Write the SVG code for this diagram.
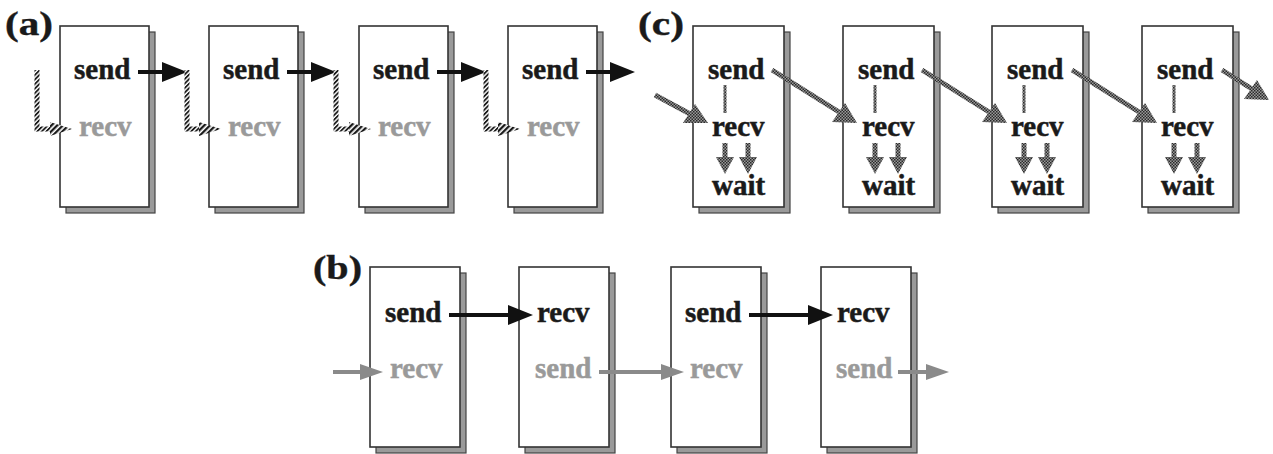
<svg xmlns="http://www.w3.org/2000/svg" width="1273" height="454" viewBox="0 0 1273 454">
  <style>
    .shadow { fill: #9a9a9a; stroke: #444; stroke-width: 1.2; }
    .box { fill: #fff; stroke: #333; stroke-width: 1.6; }
    .lbl { font-family: "Liberation Serif", "DejaVu Serif", serif; font-weight: bold; font-size: 29px; fill: #1a1a1a; stroke: #1a1a1a; stroke-width: 0.5; }
    .dim { fill: #9a9a9a; stroke: #9a9a9a; }
    .tag { font-family: "Liberation Serif", "DejaVu Serif", serif; font-weight: bold; font-size: 34px; fill: #1a1a1a; stroke: #1a1a1a; stroke-width: 0.4; }
    .solid { stroke: #111; stroke-width: 4; fill: none; }
    .solidhead { fill: #111; }
    .grey { stroke: #8a8a8a; stroke-width: 4; fill: none; }
    .greyhead { fill: #8a8a8a; }
    .hatch { stroke: url(#diag); stroke-width: 5; fill: none; }
    .hatchhead { fill: url(#diagBold); }
    .check { stroke: url(#checker); stroke-width: 5; fill: none; }
    .checkthin { stroke: url(#checker); stroke-width: 3; fill: none; }
    .checkhead { fill: url(#checker); }
  </style>
  <defs>
    <!-- diagonal hatching used for the blocked (a) messages -->
    <pattern id="diag" patternUnits="userSpaceOnUse" width="3.2" height="3.2" patternTransform="rotate(45)">
      <rect width="3.2" height="3.2" fill="#fff"/>
      <rect width="1.8" height="3.2" fill="#1a1a1a"/>
    </pattern>
    <pattern id="diagBold" patternUnits="userSpaceOnUse" width="4" height="4" patternTransform="rotate(45)">
      <rect width="4" height="4" fill="#fff"/>
      <rect width="2.3" height="4" fill="#1a1a1a"/>
    </pattern>
    <!-- checkered texture used for the non-blocking (c) messages -->
    <pattern id="checker" patternUnits="userSpaceOnUse" width="3" height="3">
      <rect width="3" height="3" fill="#999"/>
      <rect width="1.5" height="1.5" fill="#2a2a2a"/>
      <rect x="1.5" y="1.5" width="1.5" height="1.5" fill="#2a2a2a"/>
    </pattern>
  </defs>

  <!-- panel labels -->
  <text class="tag" x="5" y="35" textLength="48" lengthAdjust="spacingAndGlyphs">(a)</text>
  <text class="tag" x="638" y="35" textLength="46" lengthAdjust="spacingAndGlyphs">(c)</text>
  <text class="tag" x="313" y="279" textLength="49" lengthAdjust="spacingAndGlyphs">(b)</text>

  <!-- (a) nodes -->
  <g id="a1">
    <rect class="shadow" x="66" y="32" width="89" height="181"/>
    <rect class="box" x="60" y="26" width="89" height="181"/>
    <text class="lbl" x="74" y="79">send</text>
    <text class="lbl dim" x="79" y="136">recv</text>
  </g>
  <g id="a2">
    <rect class="shadow" x="215" y="32" width="89" height="181"/>
    <rect class="box" x="209" y="26" width="89" height="181"/>
    <text class="lbl" x="223" y="79">send</text>
    <text class="lbl dim" x="228" y="136">recv</text>
  </g>
  <g id="a3">
    <rect class="shadow" x="365" y="32" width="89" height="181"/>
    <rect class="box" x="359" y="26" width="89" height="181"/>
    <text class="lbl" x="373" y="79">send</text>
    <text class="lbl dim" x="378" y="136">recv</text>
  </g>
  <g id="a4">
    <rect class="shadow" x="514" y="32" width="89" height="181"/>
    <rect class="box" x="508" y="26" width="89" height="181"/>
    <text class="lbl" x="522" y="79">send</text>
    <text class="lbl dim" x="527" y="136">recv</text>
  </g>

  <!-- (c) nodes -->
  <g id="c1">
    <rect class="shadow" x="699" y="32" width="91" height="181"/>
    <rect class="box" x="693" y="26" width="91" height="181"/>
    <text class="lbl" x="708" y="79">send</text>
    <text class="lbl" x="712" y="136">recv</text>
    <text class="lbl" x="712" y="195">wait</text>
  </g>
  <g id="c2">
    <rect class="shadow" x="849" y="32" width="91" height="181"/>
    <rect class="box" x="843" y="26" width="91" height="181"/>
    <text class="lbl" x="858" y="79">send</text>
    <text class="lbl" x="862" y="136">recv</text>
    <text class="lbl" x="862" y="195">wait</text>
  </g>
  <g id="c3">
    <rect class="shadow" x="998" y="32" width="91" height="181"/>
    <rect class="box" x="992" y="26" width="91" height="181"/>
    <text class="lbl" x="1007" y="79">send</text>
    <text class="lbl" x="1011" y="136">recv</text>
    <text class="lbl" x="1011" y="195">wait</text>
  </g>
  <g id="c4">
    <rect class="shadow" x="1148" y="32" width="91" height="181"/>
    <rect class="box" x="1142" y="26" width="91" height="181"/>
    <text class="lbl" x="1157" y="79">send</text>
    <text class="lbl" x="1161" y="136">recv</text>
    <text class="lbl" x="1161" y="195">wait</text>
  </g>

  <!-- (b) nodes -->
  <g id="b1">
    <rect class="shadow" x="376" y="273" width="90" height="180"/>
    <rect class="box" x="370" y="267" width="90" height="180"/>
    <text class="lbl" x="385" y="322">send</text>
    <text class="lbl dim" x="390" y="378">recv</text>
  </g>
  <g id="b2">
    <rect class="shadow" x="525" y="273" width="90" height="180"/>
    <rect class="box" x="519" y="267" width="90" height="180"/>
    <text class="lbl" x="537" y="322">recv</text>
    <text class="lbl dim" x="535" y="378">send</text>
  </g>
  <g id="b3">
    <rect class="shadow" x="677" y="273" width="90" height="180"/>
    <rect class="box" x="671" y="267" width="90" height="180"/>
    <text class="lbl" x="685" y="322">send</text>
    <text class="lbl dim" x="690" y="378">recv</text>
  </g>
  <g id="b4">
    <rect class="shadow" x="827" y="273" width="90" height="180"/>
    <rect class="box" x="821" y="267" width="90" height="180"/>
    <text class="lbl" x="837" y="322">recv</text>
    <text class="lbl dim" x="836" y="378">send</text>
  </g>

  <g id="connectors">
    <!-- (a) send arrows -->
    <g>
      <line class="solid" x1="138" y1="72" x2="166" y2="72"/>
      <polygon class="solidhead" points="187,72 162,62 162,82"/>
      <line class="solid" x1="287" y1="72" x2="315" y2="72"/>
      <polygon class="solidhead" points="336,72 311,62 311,82"/>
      <line class="solid" x1="437" y1="72" x2="465" y2="72"/>
      <polygon class="solidhead" points="486,72 461,62 461,82"/>
      <line class="solid" x1="586" y1="72" x2="614" y2="72"/>
      <polygon class="solidhead" points="635,72 610,62 610,82"/>
    </g>
    <!-- (a) hatched blocked receives -->
    <g>
      <path class="hatch" d="M37,70 V129 H56"/>
      <polygon class="hatchhead" points="72,129 50,122 50,136"/>
      <path class="hatch" d="M187,70 V129 H205"/>
      <polygon class="hatchhead" points="221,129 199,122 199,136"/>
      <path class="hatch" d="M336,70 V129 H355"/>
      <polygon class="hatchhead" points="371,129 349,122 349,136"/>
      <path class="hatch" d="M486,70 V129 H504"/>
      <polygon class="hatchhead" points="520,129 498,122 498,136"/>
    </g>
    <!-- (c) diagonal non-blocking messages -->
    <g>
      <line class="check" x1="655" y1="95" x2="692" y2="115"/>
      <polygon class="checkhead" points="708,123 683,123 695,104"/>
      <line class="check" x1="772" y1="70" x2="839" y2="112"/>
      <polygon class="checkhead" points="857,123 832,122 845,103"/>
      <line class="check" x1="922" y1="70" x2="989" y2="112"/>
      <polygon class="checkhead" points="1007,123 982,122 995,103"/>
      <line class="check" x1="1072" y1="70" x2="1139" y2="112"/>
      <polygon class="checkhead" points="1157,123 1132,122 1145,103"/>
      <line class="check" x1="1222" y1="70" x2="1252" y2="89"/>
      <polygon class="checkhead" points="1269,100 1244,99 1257,80"/>
    </g>
    <!-- (c) send-to-recv links and wait arrows -->
    <g>
      <line class="checkthin" x1="725" y1="85" x2="725" y2="113"/>
      <line class="check" x1="725" y1="143" x2="725" y2="160"/>
      <polygon class="checkhead" points="716,157 734,157 725,174"/>
      <line class="check" x1="748" y1="143" x2="748" y2="160"/>
      <polygon class="checkhead" points="739,157 757,157 748,174"/>

      <line class="checkthin" x1="875" y1="85" x2="875" y2="113"/>
      <line class="check" x1="875" y1="143" x2="875" y2="160"/>
      <polygon class="checkhead" points="866,157 884,157 875,174"/>
      <line class="check" x1="898" y1="143" x2="898" y2="160"/>
      <polygon class="checkhead" points="889,157 907,157 898,174"/>

      <line class="checkthin" x1="1024" y1="85" x2="1024" y2="113"/>
      <line class="check" x1="1024" y1="143" x2="1024" y2="160"/>
      <polygon class="checkhead" points="1015,157 1033,157 1024,174"/>
      <line class="check" x1="1047" y1="143" x2="1047" y2="160"/>
      <polygon class="checkhead" points="1038,157 1056,157 1047,174"/>

      <line class="checkthin" x1="1174" y1="85" x2="1174" y2="113"/>
      <line class="check" x1="1174" y1="143" x2="1174" y2="160"/>
      <polygon class="checkhead" points="1165,157 1183,157 1174,174"/>
      <line class="check" x1="1197" y1="143" x2="1197" y2="160"/>
      <polygon class="checkhead" points="1188,157 1206,157 1197,174"/>
    </g>
    <!-- (b) black first-phase sends -->
    <g>
      <line class="solid" x1="449" y1="315" x2="512" y2="315"/>
      <polygon class="solidhead" points="533,315 508,305 508,325"/>
      <line class="solid" x1="749" y1="315" x2="812" y2="315"/>
      <polygon class="solidhead" points="833,315 808,305 808,325"/>
    </g>
    <!-- (b) grey second-phase sends -->
    <g>
      <line class="grey" x1="333" y1="372" x2="364" y2="372"/>
      <polygon class="greyhead" points="383,372 360,364 360,380"/>
      <line class="grey" x1="599" y1="372" x2="665" y2="372"/>
      <polygon class="greyhead" points="684,372 661,364 661,380"/>
      <line class="grey" x1="898" y1="372" x2="930" y2="372"/>
      <polygon class="greyhead" points="949,372 926,364 926,380"/>
    </g>
  </g>
</svg>
